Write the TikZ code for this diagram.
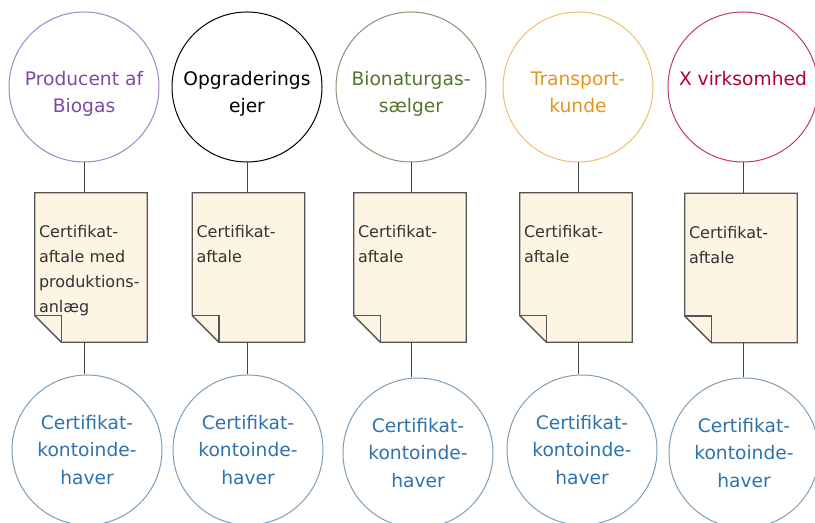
\documentclass[tikz,border=0pt]{standalone}
\usepackage{fontspec}
\setmainfont{DejaVu Sans}
\usetikzlibrary{backgrounds}

\definecolor{purpleline}{HTML}{A383CC}
\definecolor{purpletext}{HTML}{7B4BA6}
\definecolor{oliveline}{HTML}{8C8F72}
\definecolor{olivetext}{HTML}{56752C}
\definecolor{orangeline}{HTML}{F2BC70}
\definecolor{orangetext}{HTML}{E8941C}
\definecolor{redline}{HTML}{C23A55}
\definecolor{redtext}{HTML}{B0002C}
\definecolor{ringblue}{HTML}{7E9DB6}
\definecolor{textblue}{HTML}{2E72AE}
\definecolor{docfill}{HTML}{FDF4E3}
\definecolor{docline}{HTML}{555555}
\definecolor{doctext}{HTML}{333333}
\definecolor{linkgrey}{HTML}{454545}

% folded paper behind a document node
\newcommand{\docpaper}[1]{%
 \filldraw[docline, fill=docfill, line width=1pt] (#1.north west) -- (#1.north east) -- (#1.south east)
   -- ([xshift=20pt]#1.south west) -- ([yshift=20pt]#1.south west) -- cycle;
 \draw[docline, line width=1pt] ([yshift=20pt]#1.south west) -| ([xshift=20pt]#1.south west);
}
\newcommand{\doctxt}[1]{\parbox[c][111.75pt][t]{78pt}{\raggedright\vspace*{24.5pt}#1}}

\begin{document}
\begin{tikzpicture}[x=0.75pt,y=-0.75pt,
 party/.style 2 args={circle,draw=#1,text=#2,line width=0.75pt,minimum size=112.5pt,inner sep=0pt,
   align=center,font=\fontsize{14pt}{20.5pt}\selectfont,text height=42pt,text depth=3pt},
 holder/.style={circle,draw=ringblue,text=textblue,line width=0.75pt,minimum size=112.5pt,inner sep=0pt,
   align=center,font=\fontsize{14pt}{20.5pt}\selectfont},
 paper/.style={inner sep=0pt,minimum width=84pt,minimum height=111.75pt,text=doctext,
   font=\fontsize{12pt}{18.75pt}\selectfont},
 link/.style={draw=linkgrey,line width=0.75pt}]
\useasboundingbox (0,0) rectangle (815,523);

% parties
\node[party={purpleline}{purpletext}] (p1) at (84,87) {Producent af\\Biogas};
\node[party={black}{black}] (p2) at (247,87) {Opgraderings\\ejer};
\node[party={oliveline}{olivetext}] (p3) at (411,87) {Bionaturgas-\\sælger};
\node[party={orangeline}{orangetext}] (p4) at (578,87) {Transport-\\kunde};
\node[party={redline}{redtext}] (p5) at (743,87) {X virksomhed\\\strut};

% agreements
\node[paper] (d1) at (91,267.5) {\doctxt{Certifikat-\\aftale med\\produktions-\\anlæg}};
\node[paper] (d2) at (248.5,267.5) {\doctxt{Certifikat-\\aftale}};
\node[paper] (d3) at (410,267.5) {\doctxt{Certifikat-\\aftale}};
\node[paper] (d4) at (576,267.5) {\doctxt{Certifikat-\\aftale}};
\node[paper] (d5) at (741,268) {\doctxt{Certifikat-\\aftale}};

\begin{scope}[on background layer]
\docpaper{d1}
\docpaper{d2}
\docpaper{d3}
\docpaper{d4}
\docpaper{d5}
\end{scope}

% account holders
\node[holder] (h1) at (87,450) {Certifikat-\\kontoinde-\\haver};
\node[holder] (h2) at (248,450) {Certifikat-\\kontoinde-\\haver};
\node[holder] (h3) at (418,453) {Certifikat-\\kontoinde-\\haver};
\node[holder] (h4) at (582,450) {Certifikat-\\kontoinde-\\haver};
\node[holder] (h5) at (744,453) {Certifikat-\\kontoinde-\\haver};

\draw[link] (p1.south) -- (p1.south |- d1.north);
\draw[link] (p2.south) -- (p2.south |- d2.north);
\draw[link] (p3.south) -- (p3.south |- d3.north);
\draw[link] (p4.south) -- (p4.south |- d4.north);
\draw[link] (p5.south) -- (p5.south |- d5.north);

\draw[link] (p1.south |- d1.south) -- (p1.south |- h1.north);
\draw[link] (p2.south |- d2.south) -- (p2.south |- h2.north);
\draw[link] (p3.south |- d3.south) -- (p3.south |- h3.north);
\draw[link] (p4.south |- d4.south) -- (p4.south |- h4.north);
\draw[link] (p5.south |- d5.south) -- (p5.south |- h5.north);

\end{tikzpicture}
\end{document}
